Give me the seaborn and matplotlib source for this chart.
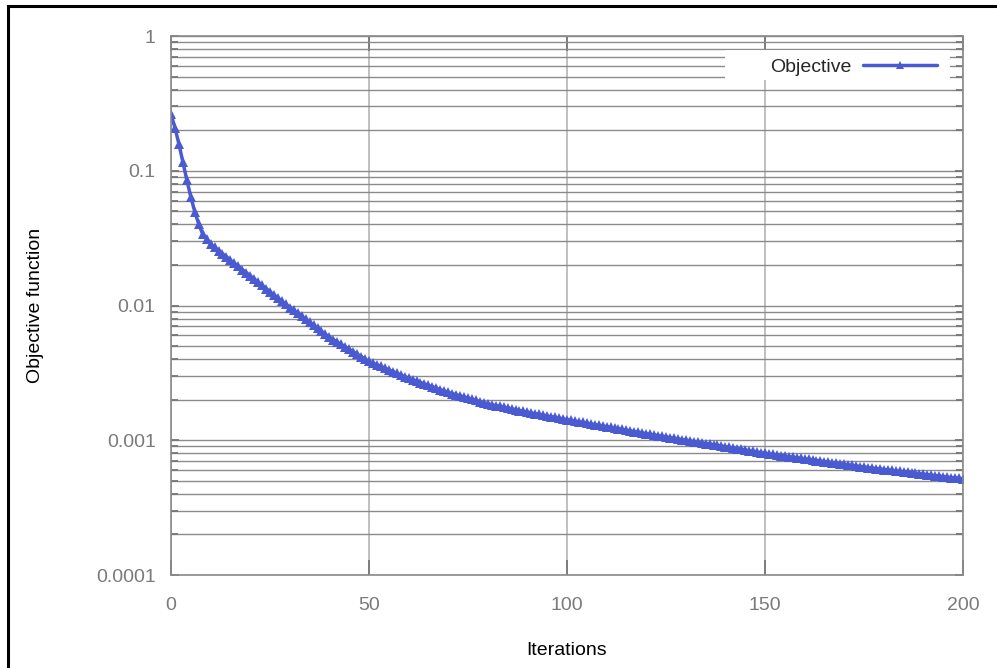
import numpy as np
import pandas as pd
import matplotlib
matplotlib.use("Agg")
import matplotlib.pyplot as plt
from matplotlib.patches import Rectangle
from matplotlib.ticker import LogLocator, NullFormatter, FixedLocator
import seaborn as sns

# Objective value recorded at every iteration 0..200
iterations = list(range(201))
objective = [
    0.262, 0.209, 0.158, 0.116, 0.0853, 0.0641, 0.0497, 0.0403, 0.0339, 0.0309,
    0.02851, 0.02700, 0.02559, 0.02424, 0.02296, 0.02176, 0.02061, 0.01952, 0.01849, 0.01752,
    0.01660, 0.01572, 0.01489, 0.01411, 0.01336, 0.01266, 0.01199, 0.01136, 0.01076, 0.01020,
    0.009661, 0.009183, 0.008730, 0.008299, 0.007889, 0.007499, 0.007129, 0.006776, 0.006442, 0.006124,
    0.005821, 0.005585, 0.005358, 0.005140, 0.004932, 0.004732, 0.004539, 0.004355, 0.004178, 0.004009,
    0.003846, 0.003737, 0.003631, 0.003528, 0.003428, 0.003330, 0.003236, 0.003144, 0.003055, 0.002968,
    0.002884, 0.002815, 0.002748, 0.002682, 0.002618, 0.002556, 0.002495, 0.002435, 0.002377, 0.002320,
    0.002265, 0.002221, 0.002178, 0.002136, 0.002094, 0.002054, 0.002014, 0.001975, 0.001936, 0.001899,
    0.001862, 0.001836, 0.001810, 0.001784, 0.001759, 0.001734, 0.001709, 0.001685, 0.001661, 0.001638,
    0.001614, 0.001594, 0.001574, 0.001554, 0.001535, 0.001515, 0.001496, 0.001477, 0.001459, 0.001440,
    0.001422, 0.001405, 0.001388, 0.001372, 0.001355, 0.001339, 0.001323, 0.001307, 0.001292, 0.001276,
    0.001262, 0.001246, 0.001232, 0.001217, 0.001202, 0.001189, 0.001174, 0.001160, 0.001146, 0.001133,
    0.001119, 0.001107, 0.001095, 0.001082, 0.001070, 0.001058, 0.001047, 0.001035, 0.001023, 0.001012,
    0.001001, 0.0009895, 0.0009786, 0.0009676, 0.0009568, 0.0009460, 0.0009357, 0.0009252, 0.0009148, 0.0009048,
    0.0008946, 0.0008846, 0.0008749, 0.0008650, 0.0008553, 0.0008457, 0.0008364, 0.0008270, 0.0008177, 0.0008087,
    0.0007998, 0.0007923, 0.0007849, 0.0007775, 0.0007702, 0.0007630, 0.0007558, 0.0007487, 0.0007417, 0.0007347,
    0.0007278, 0.0007210, 0.0007142, 0.0007075, 0.0007009, 0.0006943, 0.0006878, 0.0006813, 0.0006750, 0.0006686,
    0.0006622, 0.0006560, 0.0006499, 0.0006438, 0.0006377, 0.0006317, 0.0006266, 0.0006216, 0.0006166, 0.0006116,
    0.0006067, 0.0006019, 0.0005970, 0.0005922, 0.0005875, 0.0005828, 0.0005781, 0.0005735, 0.0005689, 0.0005643,
    0.0005598, 0.0005553, 0.0005508, 0.0005464, 0.0005420, 0.0005377, 0.0005333, 0.0005291, 0.0005248, 0.0005206,
    0.0005164,
]

x_ticks = [0, 50, 100, 150, 200]
y_ticks = [0.0001, 0.001, 0.01, 0.1, 1]
y_tick_labels = ["0.0001", "0.001", "0.01", "0.1", "1"]

series_name = "Objective"
line_color = "#4a5bd2"
grid_dark = "#8a8a8a"
grid_light = "#b4b4b4"
text_gray = "#7a7a7a"

sns.set_style("white")
plt.rcParams["font.family"] = ["Liberation Sans", "DejaVu Sans"]

df = pd.DataFrame({"Iterations": iterations, "Objective function": objective})

fig = plt.figure(figsize=(9.97, 6.68), dpi=100)
ax = fig.add_axes([0.1715, 0.1392, 0.7944, 0.8069])

sns.lineplot(data=df, x="Iterations", y="Objective function", ax=ax,
             color=line_color, linewidth=2.5, marker="^", markersize=7.5,
             markeredgewidth=0, label=series_name)

ax.set_yscale("log")
ax.set_xlim(0, 200)
ax.set_ylim(0.0001, 1)

ax.xaxis.set_major_locator(FixedLocator(x_ticks))
ax.set_xticklabels([str(t) for t in x_ticks])
ax.yaxis.set_major_locator(FixedLocator(y_ticks))
ax.set_yticklabels(y_tick_labels)
ax.yaxis.set_minor_locator(LogLocator(base=10, subs=np.arange(2, 10)))
ax.yaxis.set_minor_formatter(NullFormatter())

# grid: horizontal lines at every decade subdivision, vertical at major x ticks
ax.grid(True, which="both", axis="y", color=grid_dark, linewidth=1.0)
ax.grid(True, which="major", axis="x", color=grid_light, linewidth=1.2)
ax.set_axisbelow(True)

for s in ax.spines.values():
    s.set_color(grid_dark)
    s.set_linewidth(1.2)

ax.tick_params(axis="x", which="major", direction="in", length=11, width=1.3,
               color="#777777", top=True, bottom=True, labelsize=14,
               labelcolor=text_gray, pad=16)
ax.tick_params(axis="y", which="major", direction="in", length=6, width=1.3,
               color="#777777", left=True, right=True, labelsize=14,
               labelcolor=text_gray, pad=11)
ax.tick_params(axis="y", which="minor", direction="in", length=5, width=1.3,
               color="#777777", left=True, right=True)

ax.set_xlabel("Iterations", fontsize=14, color="black", labelpad=20)
ax.set_ylabel("Objective function", fontsize=14, color="black", labelpad=37.5)

# white backing box for the legend, wider on the left than the entry itself
ax.add_patch(Rectangle((0.6995, 0.918), 0.284, 0.056, transform=ax.transAxes,
                       facecolor="white", edgecolor="none", zorder=4))

leg = ax.legend(loc="center right", bbox_to_anchor=(0.967, 0.9425),
                frameon=False, markerfirst=False, handlelength=3.8,
                fontsize=14, borderpad=0.0, borderaxespad=0.0,
                handletextpad=0.6)
leg.set_zorder(5)
for h in leg.legend_handles:
    h.set_markersize(6)

# outer black frame around the figure
fig.patches.append(Rectangle((0.0085, -0.2), 1.2, 0.2 + 0.9905,
                             transform=fig.transFigure, fill=False,
                             edgecolor="black", linewidth=2.2))

fig.savefig("out.png", dpi=100, facecolor="white")
